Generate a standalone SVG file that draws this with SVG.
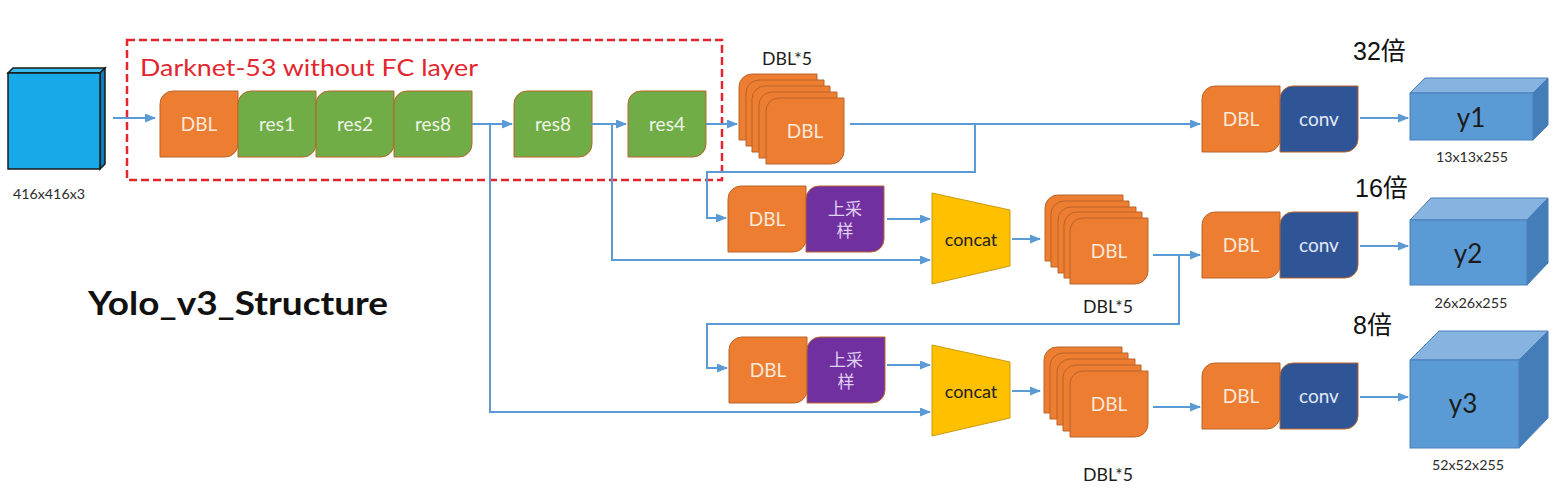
<svg xmlns="http://www.w3.org/2000/svg" width="1564" height="495" viewBox="0 0 1564 495">
<style>
.bk{stroke:#B9652A;stroke-width:1}
.or{fill:#ED7D31}
.gr{fill:#70AD47}
.pu{fill:#7030A0}
.bl{fill:#2F5597}
.t{font-family:"Lato","Liberation Sans",sans-serif;text-anchor:middle}
.tb{font-size:19px}
.wo{fill:#FBE9DB}
.wg{fill:#EEF5E8}
.wb{fill:#E3E9F6}
.wp{fill:#E0D2F2;font-family:"Noto Sans CJK SC",sans-serif;font-size:17px;text-anchor:middle}
.cn{fill:#5B9BD5;stroke:#5B9BD5;stroke-width:2;fill:none}
.dim{font-size:14px;fill:#2b2b2b}
.d5{font-size:17px;fill:#1b1b1b}
.bei{font-family:"Liberation Sans","Noto Sans CJK SC",sans-serif;font-size:25px;fill:#111}
.cc{fill:#FFC000;stroke:#C99A12;stroke-width:1}
.cf{fill:#5B9BD5;stroke:#4A7EBB;stroke-width:1}
.ct{fill:#86B3E0;stroke:#4A7EBB;stroke-width:1}
.cr{fill:#457DB8;stroke:#4A7EBB;stroke-width:1}
</style>
<defs>
<path id="blk" d="M13,0 H78 V53 A13,13 0 0 1 65,66 H0 V13 A13,13 0 0 1 13,0 Z"/>
<marker id="ar" markerUnits="userSpaceOnUse" markerWidth="11" markerHeight="9" refX="10" refY="4.5" orient="auto">
<path d="M0,0 L11,4.5 L0,9 Z" fill="#5B9BD5"/>
</marker>
</defs>
<rect width="1564" height="495" fill="#FFFFFF"/>

<g id="input">
<polygon points="8,73 13,68 105,68 100,73" fill="#3BBCF0" stroke="#1a1a1a" stroke-width="1.5"/>
<polygon points="100,73 105,68 105,164 100,169" fill="#0C7FB8" stroke="#1a1a1a" stroke-width="1.5"/>
<rect x="8" y="73" width="92" height="96" fill="#17A9E8" stroke="#1a1a1a" stroke-width="1.5"/>
<text class="t dim" x="49" y="199" textLength="72" lengthAdjust="spacingAndGlyphs">416x416x3</text>
</g>

<g id="darknet">
<rect x="127" y="40" width="595" height="140" fill="none" stroke="#E3262E" stroke-width="2.5" stroke-dasharray="8,4"/>
<text x="140" y="76" font-family="Lato,'Liberation Sans',sans-serif" font-size="24" fill="#E3262E" textLength="338" lengthAdjust="spacingAndGlyphs">Darknet-53 without FC layer</text>
</g>

<g id="dbl0"><use href="#blk" x="160" y="91" class="or bk"/><text class="t tb wo" x="199" y="131">DBL</text></g>
<g id="res1"><use href="#blk" x="238" y="91" class="gr bk"/><text class="t tb wg" x="277" y="131">res1</text></g>
<g id="res2"><use href="#blk" x="316" y="91" class="gr bk"/><text class="t tb wg" x="355" y="131">res2</text></g>
<g id="res8a"><use href="#blk" x="394" y="91" class="gr bk"/><text class="t tb wg" x="433" y="131">res8</text></g>
<g id="res8b"><use href="#blk" x="514" y="91" class="gr bk"/><text class="t tb wg" x="553" y="131">res8</text></g>
<g id="res4"><use href="#blk" x="628" y="91" class="gr bk"/><text class="t tb wg" x="667" y="131">res4</text></g>

<g id="stack1">
<use href="#blk" x="739" y="74" class="or bk"/>
<use href="#blk" x="746" y="80" class="or bk"/>
<use href="#blk" x="752" y="86" class="or bk"/>
<use href="#blk" x="759" y="92" class="or bk"/>
<use href="#blk" x="766" y="98" class="or bk"/>
<text class="t tb wo" x="805" y="138">DBL</text>
<text class="t d5" x="787" y="65" textLength="50" lengthAdjust="spacingAndGlyphs">DBL*5</text>
</g>

<g id="dbl_up1"><use href="#blk" x="728" y="186" class="or bk"/><text class="t tb wo" x="767" y="226">DBL</text></g>
<g id="up1"><use href="#blk" x="806" y="186" class="pu bk"/><text class="wp" x="845" y="215">上采</text><text class="wp" x="845" y="237">样</text></g>
<g id="concat1"><polygon points="932,193 1010,210 1010,266 932,284" class="cc"/><text class="t" x="971" y="246" font-size="18" fill="#222">concat</text></g>
<g id="stack2">
<use href="#blk" x="1045" y="195" class="or bk"/>
<use href="#blk" x="1051" y="201" class="or bk"/>
<use href="#blk" x="1058" y="207" class="or bk"/>
<use href="#blk" x="1064" y="212" class="or bk"/>
<use href="#blk" x="1070" y="218" class="or bk"/>
<text class="t tb wo" x="1109" y="258">DBL</text>
<text class="t d5" x="1108" y="313" textLength="50" lengthAdjust="spacingAndGlyphs">DBL*5</text>
</g>

<g id="dbl_up2"><use href="#blk" x="729" y="337" class="or bk"/><text class="t tb wo" x="768" y="377">DBL</text></g>
<g id="up2"><use href="#blk" x="807" y="337" class="pu bk"/><text class="wp" x="846" y="366">上采</text><text class="wp" x="846" y="388">样</text></g>
<g id="concat2"><polygon points="932,345 1010,362 1010,418 932,436" class="cc"/><text class="t" x="971" y="398" font-size="18" fill="#222">concat</text></g>
<g id="stack3">
<use href="#blk" x="1044" y="347" class="or bk"/>
<use href="#blk" x="1050" y="353" class="or bk"/>
<use href="#blk" x="1057" y="359" class="or bk"/>
<use href="#blk" x="1063" y="365" class="or bk"/>
<use href="#blk" x="1070" y="371" class="or bk"/>
<text class="t tb wo" x="1109" y="411">DBL</text>
<text class="t d5" x="1108" y="481" textLength="50" lengthAdjust="spacingAndGlyphs">DBL*5</text>
</g>

<g id="head1"><use href="#blk" x="1202" y="86" class="or bk"/><text class="t tb wo" x="1241" y="126">DBL</text><use href="#blk" x="1280" y="86" class="bl bk"/><text class="t tb wb" x="1319" y="126">conv</text></g>
<g id="head2"><use href="#blk" x="1202" y="212" class="or bk"/><text class="t tb wo" x="1241" y="252">DBL</text><use href="#blk" x="1280" y="212" class="bl bk"/><text class="t tb wb" x="1319" y="252">conv</text></g>
<g id="head3"><use href="#blk" x="1202" y="363" class="or bk"/><text class="t tb wo" x="1241" y="403">DBL</text><use href="#blk" x="1280" y="363" class="bl bk"/><text class="t tb wb" x="1319" y="403">conv</text></g>

<g id="y1">
<polygon points="1410,93 1425,78 1548,78 1533,93" class="ct"/>
<polygon points="1533,93 1548,78 1548,125 1533,140" class="cr"/>
<rect x="1410" y="93" width="123" height="47" class="cf"/>
<text class="t" x="1471" y="127" font-size="26" fill="#1b1b1b">y1</text>
<text class="t dim" x="1472" y="162" textLength="72" lengthAdjust="spacingAndGlyphs">13x13x255</text>
<text class="bei" x="1353" y="60">32倍</text>
</g>
<g id="y2">
<polygon points="1410,220 1431,198 1548,198 1527,220" class="ct"/>
<polygon points="1527,220 1548,198 1548,263 1527,285" class="cr"/>
<rect x="1410" y="220" width="117" height="65" class="cf"/>
<text class="t" x="1468" y="263" font-size="26" fill="#1b1b1b">y2</text>
<text class="t dim" x="1471" y="308" textLength="73" lengthAdjust="spacingAndGlyphs">26x26x255</text>
<text class="bei" x="1355" y="197">16倍</text>
</g>
<g id="y3">
<polygon points="1410,360 1439,331 1548,331 1519,360" class="ct"/>
<polygon points="1519,360 1548,331 1548,418 1519,448" class="cr"/>
<rect x="1410" y="360" width="109" height="88" class="cf"/>
<text class="t" x="1463" y="413" font-size="26" fill="#1b1b1b">y3</text>
<text class="t dim" x="1468" y="470" textLength="72" lengthAdjust="spacingAndGlyphs">52x52x255</text>
<text class="bei" x="1353" y="334">8倍</text>
</g>

<g id="title"><text x="88" y="315" font-family="Lato,'Liberation Sans',sans-serif" font-weight="bold" font-size="32" fill="#111" textLength="300" lengthAdjust="spacingAndGlyphs">Yolo_v3_Structure</text></g>

<g id="connectors" class="cn">
<path d="M113,118 H155" marker-end="url(#ar)"/>
<path d="M472,124 H512" marker-end="url(#ar)"/>
<path d="M591,124 H626" marker-end="url(#ar)"/>
<path d="M706,124 H737" marker-end="url(#ar)"/>
<path d="M850,124 H1200" marker-end="url(#ar)"/>
<path d="M975,124 V172 H707 V218 H726" marker-end="url(#ar)"/>
<path d="M887,219 H930" marker-end="url(#ar)"/>
<path d="M612,124 V260 H930" marker-end="url(#ar)"/>
<path d="M1012,239 H1040" marker-end="url(#ar)"/>
<path d="M1153,255 H1200" marker-end="url(#ar)"/>
<path d="M1179,255 V324 H707 V368 H727" marker-end="url(#ar)"/>
<path d="M887,365 H930" marker-end="url(#ar)"/>
<path d="M490,124 V412 H930" marker-end="url(#ar)"/>
<path d="M1012,391 H1040" marker-end="url(#ar)"/>
<path d="M1153,407 H1200" marker-end="url(#ar)"/>
<path d="M1360,118 H1408" marker-end="url(#ar)"/>
<path d="M1360,246 H1408" marker-end="url(#ar)"/>
<path d="M1360,397 H1408" marker-end="url(#ar)"/>
</g>
</svg>
